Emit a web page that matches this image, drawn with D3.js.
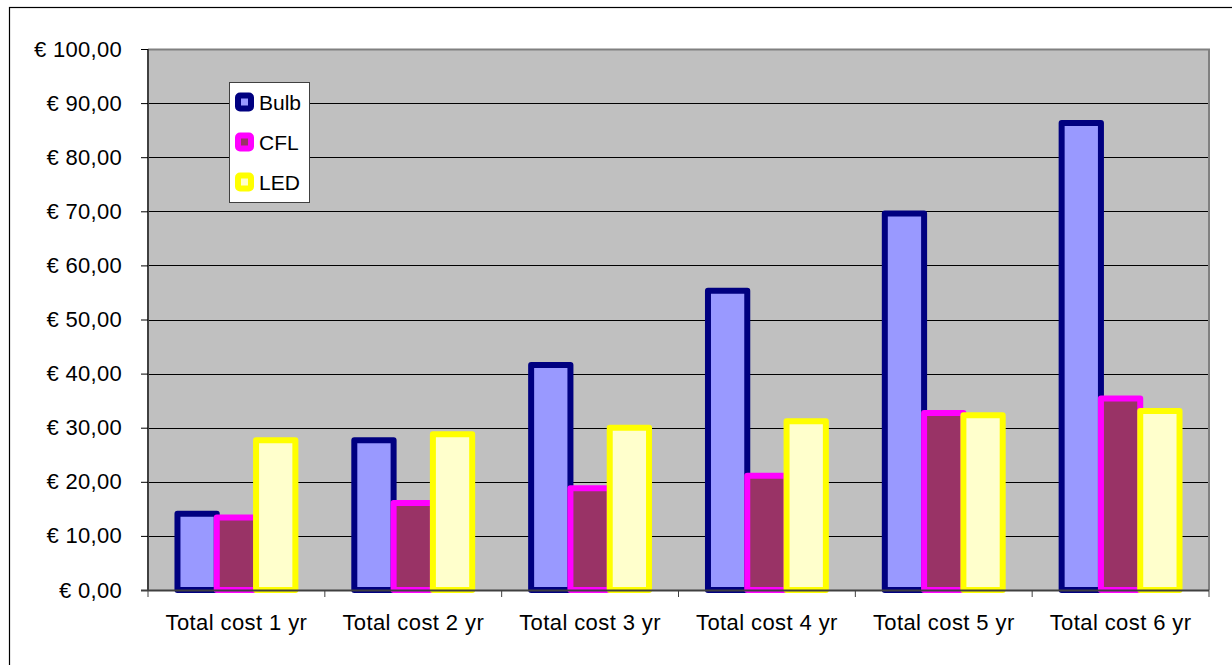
<!DOCTYPE html>
<html>
<head>
<meta charset="utf-8">
<script src="https://cdn.jsdelivr.net/npm/d3@7"></script>
<style>
  html, body { margin: 0; padding: 0; background: #fff; }
  svg { display: block; font-family: Arial, "Liberation Sans", sans-serif; }
</style>
</head>
<body>
<svg id="chart" width="1232" height="665"></svg>
<script>
// Cumulative lighting cost per lamp type over six years (EUR)
const categories = ["Total cost 1 yr", "Total cost 2 yr", "Total cost 3 yr",
                    "Total cost 4 yr", "Total cost 5 yr", "Total cost 6 yr"];
const seriesNames = ["Bulb", "CFL", "LED"];
const bulbValues = [14.1, 27.7, 41.6, 55.3, 69.6, 86.3];
const cflValues  = [13.4, 16.1, 18.8, 21.1, 32.7, 35.4];
const ledValues  = [27.7, 28.8, 30.0, 31.2, 32.3, 33.1];
const yTicks = [0, 10, 20, 30, 40, 50, 60, 70, 80, 90, 100];

const fills   = ["#9999FF", "#993366", "#FFFFCC"];
const strokes = ["#000080", "#FF00FF", "#FFFF00"];
const series = [bulbValues, cflValues, ledValues];

const svg = d3.select("#chart");
const plot = { left: 148, top: 49, right: 1209, bottom: 590 };

// Outer chart frame
svg.append("rect")
  .attr("x", 9.5).attr("y", 7.5)
  .attr("width", 1240).attr("height", 680)
  .attr("fill", "#fff").attr("stroke", "#000").attr("stroke-width", 1.2);

const x = d3.scaleBand().domain(categories).range([plot.left, plot.right]).paddingInner(0).paddingOuter(0);
const y = d3.scaleLinear().domain([0, 100]).range([plot.bottom, plot.top]);

// 150% gap: bar width = band / (3 + 1.5)
const barW = x.bandwidth() / 4.5;
const groupPad = (x.bandwidth() - 3 * barW) / 2;

// Plot background
svg.append("rect")
  .attr("x", plot.left).attr("y", plot.top)
  .attr("width", plot.right - plot.left).attr("height", plot.bottom - plot.top)
  .attr("fill", "#C0C0C0");

// Horizontal gridlines
svg.append("g").selectAll("line")
  .data(yTicks.filter(d => d > 0 && d < 100))
  .join("line")
  .attr("x1", plot.left).attr("x2", plot.right)
  .attr("y1", d => Math.round(y(d)) + 0.5).attr("y2", d => Math.round(y(d)) + 0.5)
  .attr("stroke", "#000").attr("stroke-width", 1);

// Plot border on top and right
svg.append("path")
  .attr("d", `M${plot.left},${plot.top + 0.5}H${plot.right}V${plot.bottom}`)
  .attr("fill", "none").attr("stroke", "#808080").attr("stroke-width", 2);

// Bars, series drawn in order so later ones overlap earlier borders
series.forEach((vals, si) => {
  svg.append("g").selectAll("rect")
    .data(vals)
    .join("rect")
    .attr("x", (d, i) => x(categories[i]) + groupPad + si * barW)
    .attr("y", d => y(d))
    .attr("width", barW)
    .attr("height", d => y(0) - y(d))
    .attr("fill", fills[si])
    .attr("stroke", strokes[si])
    .attr("stroke-width", 6)
    .attr("stroke-linejoin", "round");
});

// Y axis
const yAxis = d3.axisLeft(y)
  .tickValues(yTicks)
  .tickSize(7)
  .tickPadding(19)
  .tickFormat(d => "€ " + d3.format(".2f")(d).replace(".", ","));
const gy = svg.append("g").attr("transform", `translate(${plot.left},0)`).call(yAxis);
gy.select(".domain").attr("stroke", "#404040").attr("stroke-width", 2).attr("d", `M0,${plot.top}V${plot.bottom + 1}`);
gy.selectAll(".tick line").attr("stroke", "#000");
gy.selectAll(".tick text").attr("font-size", 22).attr("fill", "#000")
  .attr("letter-spacing", "0.3px")
  .attr("font-family", "Arial, 'Liberation Sans', sans-serif");

// X axis: ticks at category boundaries
const gx = svg.append("g");
gx.append("line")
  .attr("x1", plot.left - 7).attr("x2", plot.right)
  .attr("y1", plot.bottom + 0.5).attr("y2", plot.bottom + 0.5)
  .attr("stroke", "#404040").attr("stroke-width", 2);
gx.selectAll("line.tk")
  .data(d3.range(categories.length + 1))
  .join("line").attr("class", "tk")
  .attr("x1", i => plot.left + i * x.bandwidth()).attr("x2", i => plot.left + i * x.bandwidth())
  .attr("y1", plot.bottom).attr("y2", plot.bottom + 7)
  .attr("stroke", "#404040").attr("stroke-width", 1);
gx.selectAll("text")
  .data(categories)
  .join("text")
  .attr("x", d => x(d) + x.bandwidth() / 2)
  .attr("y", 630)
  .attr("text-anchor", "middle")
  .attr("font-size", 22)
  .attr("letter-spacing", "0.4px")
  .attr("fill", "#000")
  .text(d => d);

// Legend
const legend = svg.append("g");
legend.append("rect")
  .attr("x", 229.5).attr("y", 82.5).attr("width", 80).attr("height", 120)
  .attr("fill", "#fff").attr("stroke", "#404040").attr("stroke-width", 1);
const rowY = [102, 142, 182];
seriesNames.forEach((name, i) => {
  const g = legend.append("g").attr("transform", `translate(244.5,${rowY[i]})`);
  g.append("rect").attr("x", -6.5).attr("y", -6.5).attr("width", 13).attr("height", 13)
    .attr("rx", 2).attr("fill", fills[i]).attr("stroke", strokes[i]).attr("stroke-width", 6);
  legend.append("text")
    .attr("x", 259).attr("y", rowY[i]).attr("dy", "0.36em")
    .attr("font-size", 21).attr("fill", "#000").text(name);
});
</script>
</body>
</html>
